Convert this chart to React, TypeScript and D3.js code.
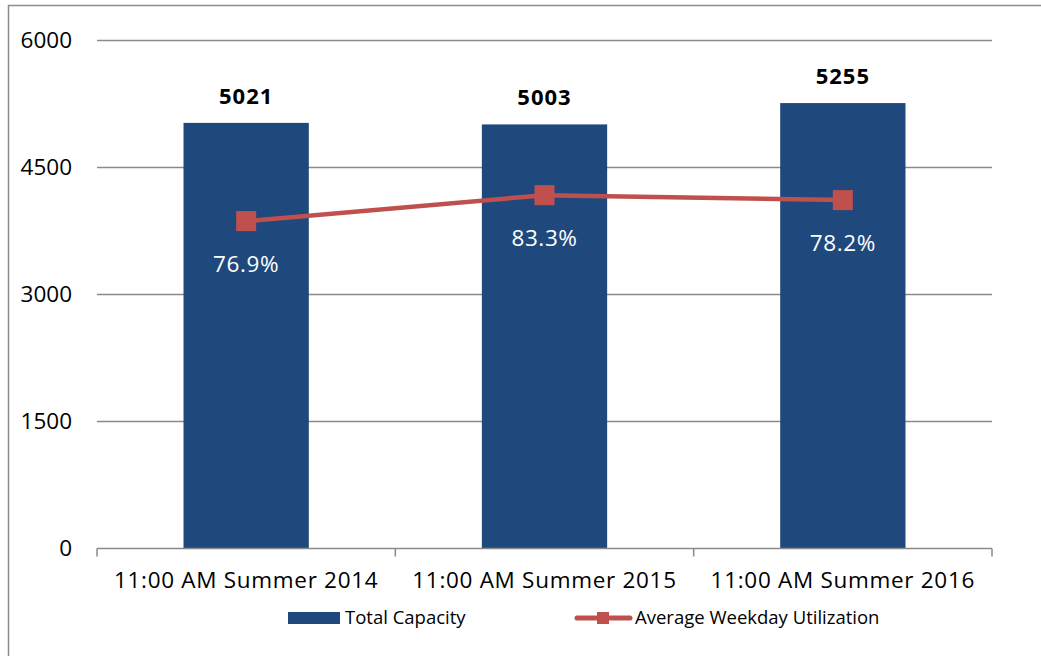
import { useEffect, useRef } from "react";
import * as d3 from "d3";

const categories = [
  "11:00 AM Summer 2014",
  "11:00 AM Summer 2015",
  "11:00 AM Summer 2016",
];
const totalCapacity = [5021, 5003, 5255];
// occupied spaces (capacity × utilization)
const utilizationValues = [3861, 4167, 4109];
const utilizationLabels = ["76.9%", "83.3%", "78.2%"];
const yTicks = [0, 1500, 3000, 4500, 6000];

const W = 1041;
const H = 656;
const margin = { top: 40, right: 49, bottom: 108, left: 97 };
const FONT = "'Open Sans', sans-serif";

export default function App() {
  const svgRef = useRef<SVGSVGElement>(null);

  useEffect(() => {
    const svg = d3.select(svgRef.current);
    svg.selectAll("*").remove();

    const bw = W - margin.left - margin.right;
    const bh = H - margin.top - margin.bottom;

    // outer frame
    svg
      .append("rect")
      .attr("x", 8.5)
      .attr("y", 5.5)
      .attr("width", W + 20)
      .attr("height", H + 20)
      .attr("fill", "white")
      .attr("stroke", "#8c8c8c")
      .attr("stroke-width", 1.5);

    const g = svg
      .append("g")
      .attr("transform", `translate(${margin.left},${margin.top})`);

    const x = d3.scaleBand().domain(categories).range([0, bw]).padding(0);
    const y = d3.scaleLinear().domain([0, 6000]).range([bh, 0]);
    const barW = x.bandwidth() * 0.42;

    // gridlines
    g.selectAll("line.grid")
      .data(yTicks.filter((t) => t > 0))
      .join("line")
      .attr("class", "grid")
      .attr("x1", 0)
      .attr("x2", bw)
      .attr("y1", (d) => Math.round(y(d)) + 0.5)
      .attr("y2", (d) => Math.round(y(d)) + 0.5)
      .attr("stroke", "#8a8a8a")
      .attr("stroke-width", 1.5);

    // y labels
    g.selectAll("text.ytick")
      .data(yTicks)
      .join("text")
      .attr("class", "ytick")
      .attr("x", -25)
      .attr("y", (d) => y(d))
      .attr("dy", "0.35em")
      .attr("text-anchor", "end")
      .attr("font-family", FONT)
      .attr("font-size", 22.5)
      .attr("fill", "#000")
      .text((d) => d);

    // bars
    g.selectAll("rect.bar")
      .data(totalCapacity)
      .join("rect")
      .attr("class", "bar")
      .attr("x", (d, i) => x(categories[i])! + x.bandwidth() / 2 - barW / 2)
      .attr("y", (d) => y(d))
      .attr("width", barW)
      .attr("height", (d) => bh - y(d))
      .attr("fill", "#1f497d");

    // bar value labels
    g.selectAll("text.barlbl")
      .data(totalCapacity)
      .join("text")
      .attr("class", "barlbl")
      .attr("x", (d, i) => x(categories[i])! + x.bandwidth() / 2)
      .attr("y", (d) => y(d) - 19)
      .attr("text-anchor", "middle")
      .attr("font-family", FONT)
      .attr("font-weight", "bold")
      .attr("font-size", 22)
      .attr("letter-spacing", 1)
      .text((d) => d);

    // x axis
    const axisY = bh + 0.5;
    g.append("line")
      .attr("x1", 0)
      .attr("x2", bw)
      .attr("y1", axisY)
      .attr("y2", axisY)
      .attr("stroke", "#8a8a8a")
      .attr("stroke-width", 1.5);
    g.selectAll("line.xtick")
      .data(d3.range(categories.length + 1))
      .join("line")
      .attr("class", "xtick")
      .attr("x1", (i) => (i * bw) / categories.length)
      .attr("x2", (i) => (i * bw) / categories.length)
      .attr("y1", axisY)
      .attr("y2", axisY + 8)
      .attr("stroke", "#8a8a8a")
      .attr("stroke-width", 1.5);
    g.selectAll("text.xlbl")
      .data(categories)
      .join("text")
      .attr("class", "xlbl")
      .attr("x", (d) => x(d)! + x.bandwidth() / 2)
      .attr("y", bh + 40)
      .attr("text-anchor", "middle")
      .attr("font-family", FONT)
      .attr("font-size", 22.5)
      .attr("letter-spacing", 0.7)
      .text((d) => d);

    // utilization line
    const pts = utilizationValues.map(
      (v, i) => [x(categories[i])! + x.bandwidth() / 2, y(v)] as [number, number]
    );
    g.append("path")
      .attr("d", d3.line()(pts))
      .attr("fill", "none")
      .attr("stroke", "#c0504d")
      .attr("stroke-width", 4.5);
    g.selectAll("rect.marker")
      .data(pts)
      .join("rect")
      .attr("class", "marker")
      .attr("x", (d) => d[0] - 10)
      .attr("y", (d) => d[1] - 10)
      .attr("width", 20)
      .attr("height", 20)
      .attr("fill", "#c0504d");
    g.selectAll("text.pct")
      .data(utilizationLabels)
      .join("text")
      .attr("class", "pct")
      .attr("x", (d, i) => pts[i][0])
      .attr("y", (d, i) => pts[i][1] + 51)
      .attr("text-anchor", "middle")
      .attr("font-family", FONT)
      .attr("font-size", 22.5)
      .attr("letter-spacing", 0.6)
      .attr("fill", "#fff")
      .text((d) => d);

    // legend
    const lg = svg.append("g");
    lg.append("rect")
      .attr("x", 288)
      .attr("y", 612)
      .attr("width", 52)
      .attr("height", 12)
      .attr("fill", "#1f497d");
    lg.append("text")
      .attr("x", 345)
      .attr("y", 618)
      .attr("dy", "0.35em")
      .attr("font-family", FONT)
      .attr("font-size", 18.5)
      .text("Total Capacity");
    lg.append("line")
      .attr("x1", 577)
      .attr("x2", 630)
      .attr("y1", 618)
      .attr("y2", 618)
      .attr("stroke", "#c0504d")
      .attr("stroke-width", 5)
      .attr("stroke-linecap", "round");
    lg.append("rect")
      .attr("x", 597)
      .attr("y", 612)
      .attr("width", 12)
      .attr("height", 12)
      .attr("fill", "#c0504d");
    lg.append("text")
      .attr("x", 635)
      .attr("y", 618)
      .attr("dy", "0.35em")
      .attr("font-family", FONT)
      .attr("font-size", 18.5)
      .text("Average Weekday Utilization");
  }, []);

  return (
    <svg
      ref={svgRef}
      width={W}
      height={H}
      style={{ position: "absolute", left: 0, top: 0 }}
    />
  );
}
